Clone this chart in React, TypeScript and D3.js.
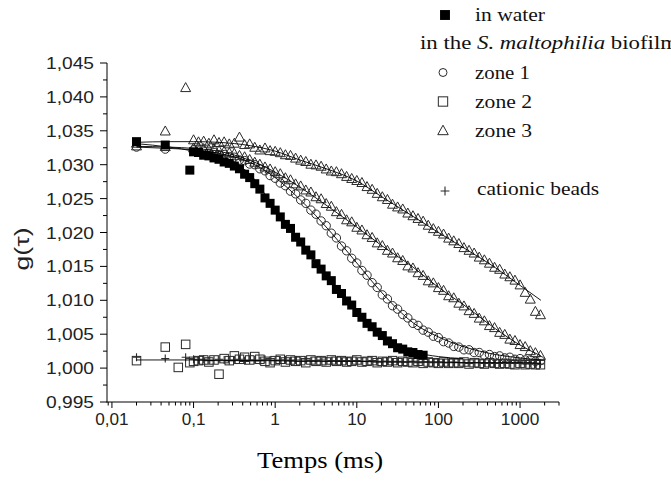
import React from "react";
import * as d3 from "d3";

// lag times (ms): 5 early channels, then 16 per decade
const tau = [
  0.02, 0.045, 0.065, 0.08, 0.09,
  0.1, 0.115, 0.133, 0.154, 0.178, 0.205, 0.237, 0.274, 0.316, 0.365, 0.422, 0.487, 0.562, 0.649, 0.75, 0.866,
  1, 1.155, 1.334, 1.54, 1.778, 2.054, 2.371, 2.738, 3.162, 3.652, 4.217, 4.87, 5.623, 6.494, 7.499, 8.66,
  10, 11.55, 13.34, 15.4, 17.78, 20.54, 23.71, 27.38, 31.62, 36.52, 42.17, 48.7, 56.23, 64.94, 74.99, 86.6,
  100, 115.5, 133.4, 154, 177.8, 205.4, 237.1, 273.8, 316.2, 365.2, 421.7, 487, 562.3, 649.4, 749.9, 866,
  1000, 1155, 1334, 1540, 1778,
];

const water = [
  1.0334, 1.0329, null, null, 1.0292,
  1.0319, 1.0318, 1.0314, 1.0313, 1.0310, 1.0308, 1.0304, 1.0302, 1.0298, 1.0294, 1.0286, 1.0281, 1.0272, 1.0264, 1.0251, 1.0243,
  1.0233, 1.0223, 1.0212, 1.0206, 1.0193, 1.0186, 1.0174, 1.0167, 1.0154, 1.0146, 1.0136, 1.0129, 1.0116, 1.0110, 1.0099, 1.0093,
  1.0082, 1.0075, 1.0066, 1.0061, 1.0053, 1.0048, 1.0040, 1.0036, 1.0030, 1.0028, 1.0024, 1.0023, 1.0020, 1.0019,
];

const zone1 = [
  1.0326, 1.0323, null, null, null,
  1.0322, 1.0320, 1.0320, 1.0317, 1.0318, 1.0315, 1.0315, 1.0312, 1.0311, 1.0307, 1.0306, 1.0301, 1.0300, 1.0294, 1.0291, 1.0284,
  1.0280, 1.0273, 1.0269, 1.0261, 1.0257, 1.0248, 1.0243, 1.0233, 1.0227, 1.0217, 1.0210, 1.0199, 1.0192, 1.0180, 1.0173, 1.0162,
  1.0155, 1.0144, 1.0137, 1.0126, 1.0119, 1.0108, 1.0102, 1.0092, 1.0087, 1.0079, 1.0074, 1.0066, 1.0063, 1.0056, 1.0053, 1.0047,
  1.0045, 1.0039, 1.0037, 1.0032, 1.0031, 1.0027, 1.0027, 1.0023, 1.0023, 1.0019, 1.0020, 1.0017, 1.0018, 1.0015, 1.0016, 1.0013,
  1.0014, 1.0012, 1.0012, 1.0010, 1.0011,
];

const zone2 = [
  1.0011, 1.0031, 1.0001, 1.0035, 1.0008,
  1.0010, 1.0011, 1.0012, 1.0009, 1.0012, 0.9991, 1.0014, 1.0011, 1.0018, 1.0013, 1.0016, 1.0012, 1.0017, 1.0013, 1.0010, 1.0008,
  1.0011, 1.0013, 1.0009, 1.0012, 1.0010, 1.0011, 1.0008, 1.0012, 1.0010, 1.0011, 1.0009, 1.0012, 1.0010, 1.0011, 1.0009, 1.0010,
  1.0012, 1.0009, 1.0010, 1.0011, 1.0008, 1.0010, 1.0009, 1.0011, 1.0008, 1.0010, 1.0009, 1.0008, 1.0010, 1.0007, 1.0009, 1.0008,
  1.0007, 1.0009, 1.0007, 1.0008, 1.0007, 1.0009, 1.0006, 1.0008, 1.0007, 1.0006, 1.0008, 1.0007, 1.0006, 1.0007, 1.0006, 1.0005,
  1.0007, 1.0005, 1.0006, 1.0005, 1.0005,
];

const zone3a = [
  1.0327, 1.0326, null, null, null,
  1.0324, 1.0325, 1.0323, 1.0322, 1.0323, 1.0320, 1.0319, 1.0317, 1.0316, 1.0313, 1.0311, 1.0307, 1.0303, 1.0300, 1.0296, 1.0293,
  1.0289, 1.0286, 1.0280, 1.0277, 1.0271, 1.0268, 1.0262, 1.0259, 1.0252, 1.0249, 1.0242, 1.0238, 1.0230, 1.0226, 1.0218, 1.0215,
  1.0207, 1.0203, 1.0196, 1.0192, 1.0184, 1.0180, 1.0173, 1.0169, 1.0162, 1.0158, 1.0150, 1.0147, 1.0140, 1.0136, 1.0128, 1.0125,
  1.0118, 1.0114, 1.0106, 1.0103, 1.0095, 1.0091, 1.0084, 1.0080, 1.0073, 1.0069, 1.0062, 1.0059, 1.0052, 1.0049, 1.0042, 1.0040,
  1.0034, 1.0031, 1.0025, 1.0022, 1.0018,
];

const zone3b = [
  1.0331, 1.0349, null, 1.0413, null,
  1.0336, 1.0333, 1.0334, 1.0331, 1.0336, 1.0332, 1.0333, 1.0330, 1.0331, 1.0340, 1.0329, 1.0330, 1.0325, 1.0321, 1.0324, 1.0320,
  1.0319, 1.0317, 1.0314, 1.0313, 1.0309, 1.0306, 1.0304, 1.0300, 1.0299, 1.0297, 1.0293, 1.0290, 1.0289, 1.0286, 1.0282, 1.0279,
  1.0276, 1.0273, 1.0267, 1.0263, 1.0257, 1.0252, 1.0248, 1.0241, 1.0237, 1.0234, 1.0228, 1.0224, 1.0220, 1.0216, 1.0210, 1.0205,
  1.0201, 1.0197, 1.0191, 1.0187, 1.0183, 1.0177, 1.0173, 1.0169, 1.0163, 1.0159, 1.0154, 1.0148, 1.0145, 1.0138, 1.0134, 1.0129,
  1.0122, 1.0111, 1.0101, 1.0083, 1.0078,
];

const beads = [
  1.0016, 1.0014, null, 1.0016, null,
  1.0013, 1.0012, 1.0013, 1.0011, 1.0012, 1.0013, 1.0012, 1.0011, 1.0012, 1.0013, 1.0011, 1.0012, 1.0012, 1.0011, 1.0013, 1.0012,
  1.0011, 1.0012, 1.0012, 1.0011, 1.0012, 1.0010, 1.0012, 1.0011, 1.0011, 1.0012, 1.0010, 1.0011, 1.0011, 1.0010, 1.0011, 1.0010,
  1.0011, 1.0010, 1.0010, 1.0011, 1.0009, 1.0010, 1.0010, 1.0009, 1.0010, 1.0009, 1.0009, 1.0010, 1.0008, 1.0009, 1.0009, 1.0008,
  1.0009, 1.0008, 1.0008, 1.0009, 1.0008, 1.0008, 1.0007, 1.0008, 1.0008, 1.0007, 1.0008, 1.0007, 1.0007, 1.0008, 1.0007, 1.0007,
  1.0007, 1.0006, 1.0007, 1.0006, 1.0006,
];

// fitted curves
const fitTau = [0.02, 0.05, 0.1, 0.2, 0.5, 1, 2, 5, 10, 20, 50, 100, 200, 500, 1000, 1800];
const waterFit = [1.0331, 1.0326, 1.0320, 1.0311, 1.0285, 1.0234, 1.0187, 1.0125, 1.0083, 1.0049, 1.0024, 1.0017, 1.0014];
const zone1Fit = [1.0326, 1.0324, 1.0322, 1.0317, 1.0303, 1.0281, 1.0249, 1.0198, 1.0155, 1.0112, 1.0066, 1.0046, 1.0032, 1.0020, 1.0015, 1.0012];
const zone3aFit = [1.0327, 1.0326, 1.0324, 1.0320, 1.0306, 1.0289, 1.0267, 1.0234, 1.0208, 1.0181, 1.0148, 1.0119, 1.0094, 1.0058, 1.0034, 1.0018];
const zone3bFit = [1.0333, 1.0334, 1.0334, 1.0333, 1.0328, 1.0320, 1.0307, 1.0291, 1.0276, 1.0253, 1.0223, 1.0200, 1.0178, 1.0148, 1.0122, 1.0100];
const flatFit = [1.0012, 1.0012, 1.0012, 1.0011, 1.0011, 1.0011, 1.0010, 1.0010, 1.0010, 1.0009, 1.0009, 1.0009, 1.0008, 1.0008, 1.0008, 1.0007];

const xTickValues = [0.01, 0.1, 1, 10, 100, 1000];
const xTickLabels = ["0,01", "0,1", "1", "10", "100", "1000"];
const yTickValues = [0.995, 1.0, 1.005, 1.01, 1.015, 1.02, 1.025, 1.03, 1.035, 1.04, 1.045];

const W = 671;
const H = 481;

const x = d3.scaleLog().domain([0.0087, 3000]).range([107, 559]);
const y = d3.scaleLinear().domain([0.995, 1.045]).range([402, 63]);

type Kind = "fsq" | "circ" | "sq" | "tri" | "plus";

function Marker({ kind, cx, cy, s = 1 }: { kind: Kind; cx: number; cy: number; s?: number }) {
  const stroke = "#2a2a2a";
  if (kind === "fsq") {
    const a = 9 * s;
    return <rect x={cx - a / 2} y={cy - a / 2} width={a} height={a} fill="#000" />;
  }
  if (kind === "sq") {
    const a = 8.5 * s;
    return <rect x={cx - a / 2} y={cy - a / 2} width={a} height={a} fill="none" stroke={stroke} strokeWidth={1} />;
  }
  if (kind === "circ") {
    return <circle cx={cx} cy={cy} r={4.2 * s} fill="none" stroke={stroke} strokeWidth={1} />;
  }
  if (kind === "tri") {
    const w = 5 * s;
    return (
      <path
        d={`M${cx},${cy - 5.5 * s}L${cx + w},${cy + 3.5 * s}L${cx - w},${cy + 3.5 * s}Z`}
        fill="none"
        stroke={stroke}
        strokeWidth={1}
      />
    );
  }
  const h = 4 * s;
  return (
    <path d={`M${cx - h},${cy}H${cx + h}M${cx},${cy - h}V${cy + h}`} stroke={stroke} strokeWidth={1.1} fill="none" />
  );
}

function Series({ values, kind }: { values: (number | null)[]; kind: Kind }) {
  return (
    <g>
      {values.map((v, i) =>
        v == null || i >= tau.length ? null : <Marker key={i} kind={kind} cx={x(tau[i])} cy={y(v)} />
      )}
    </g>
  );
}

const line = d3
  .line<[number, number]>()
  .x((d) => x(d[0]))
  .y((d) => y(d[1]))
  .curve(d3.curveMonotoneX);

function Fit({ values }: { values: number[] }) {
  const pts = values.map((v, i) => [fitTau[i], v] as [number, number]);
  return <path d={line(pts) || ""} fill="none" stroke="#000" strokeWidth={0.9} />;
}

const sans: React.CSSProperties = { fontFamily: "Liberation Sans, Arial, Helvetica, sans-serif" };
const serif: React.CSSProperties = { fontFamily: "Liberation Serif, Times New Roman, Times, serif" };

export default function App() {
  const xMinor: number[] = [];
  for (let e = -3; e <= 3; e++) {
    for (let m = 1; m <= 9; m++) {
      const v = m * Math.pow(10, e);
      if (v >= 0.0088 && v <= 3000 && m !== 1) xMinor.push(v);
    }
  }
  const yMinor: number[] = [];
  for (let i = 0; i < yTickValues.length - 1; i++) yMinor.push((yTickValues[i] + yTickValues[i + 1]) / 2);

  const fmtY = (v: number) => v.toFixed(3).replace(".", ",");

  return (
    <svg
      width={W}
      height={H}
      style={{ position: "absolute", left: 0, top: 0, background: "#fff" }}
      xmlns="http://www.w3.org/2000/svg"
    >
      <rect x={0} y={0} width={W} height={H} fill="#fff" />
      {/* axes */}
      <line x1={107} y1={63} x2={107} y2={402.5} stroke="#000" strokeWidth={1} />
      <line x1={106.5} y1={402} x2={559} y2={402} stroke="#000" strokeWidth={1} />
      {yTickValues.map((v) => (
        <g key={"yt" + v}>
          <line x1={100} x2={107} y1={y(v)} y2={y(v)} stroke="#000" strokeWidth={1} />
          <text
            x={94}
            y={y(v) + 6}
            textAnchor="end"
            style={sans}
            fontSize={16}
            textLength={48}
            lengthAdjust="spacingAndGlyphs"
            fill="#222"
          >
            {fmtY(v)}
          </text>
        </g>
      ))}
      {yMinor.map((v) => (
        <line key={"ym" + v} x1={103} x2={107} y1={y(v)} y2={y(v)} stroke="#000" strokeWidth={1} />
      ))}
      {xTickValues.map((v, i) => (
        <g key={"xt" + v}>
          <line x1={x(v)} x2={x(v)} y1={402} y2={408} stroke="#000" strokeWidth={1} />
          <text
            x={x(v)}
            y={425}
            textAnchor="middle"
            style={sans}
            fontSize={16}
            textLength={xTickLabels[i].length * 9.6 - (xTickLabels[i].includes(",") ? 5 : 0)}
            lengthAdjust="spacingAndGlyphs"
            fill="#222"
          >
            {xTickLabels[i]}
          </text>
        </g>
      ))}
      {xMinor.map((v) => (
        <line key={"xm" + v} x1={x(v)} x2={x(v)} y1={402} y2={405.5} stroke="#000" strokeWidth={1} />
      ))}
      {/* axis titles */}
      <text
        transform="translate(29,249) rotate(-90)"
        textAnchor="middle"
        style={sans}
        fontSize={21}
        textLength={43}
        lengthAdjust="spacingAndGlyphs"
        fill="#222"
      >
        g(τ)
      </text>
      <text
        x={320}
        y={468}
        textAnchor="middle"
        style={serif}
        fontSize={23}
        textLength={126}
        lengthAdjust="spacingAndGlyphs"
        fill="#000"
      >
        Temps (ms)
      </text>

      {/* data */}
      <Series values={zone2} kind="sq" />
      <Series values={beads} kind="plus" />
      <Series values={zone1} kind="circ" />
      <Series values={zone3a} kind="tri" />
      <Series values={zone3b} kind="tri" />
      <Series values={water} kind="fsq" />
      <Fit values={flatFit} />
      <Fit values={waterFit} />
      <Fit values={zone1Fit} />
      <Fit values={zone3aFit} />
      <Fit values={zone3bFit} />

      {/* legend */}
      <g style={serif} fontSize={18} fill="#111">
        <Marker kind="fsq" cx={445} cy={15} s={1.1} />
        <text x={475} y={21} style={serif} textLength={70} lengthAdjust="spacingAndGlyphs">in water</text>
        <text x={420} y={49} style={serif} textLength={258} lengthAdjust="spacingAndGlyphs">
          in the <tspan fontStyle="italic">S. maltophilia</tspan> biofilm
        </text>
        <Marker kind="circ" cx={443} cy={72.5} s={0.95} />
        <text x={475} y={79} style={serif} textLength={55} lengthAdjust="spacingAndGlyphs">zone 1</text>
        <Marker kind="sq" cx={443} cy={101.5} s={1.1} />
        <text x={475} y={108} style={serif} textLength={57} lengthAdjust="spacingAndGlyphs">zone 2</text>
        <Marker kind="tri" cx={443} cy={131} s={1.05} />
        <text x={475} y={137} style={serif} textLength={57} lengthAdjust="spacingAndGlyphs">zone 3</text>
        <Marker kind="plus" cx={445} cy={191} s={1.1} />
        <text x={477} y={195} style={serif} textLength={122} lengthAdjust="spacingAndGlyphs">cationic beads</text>
      </g>
    </svg>
  );
}
